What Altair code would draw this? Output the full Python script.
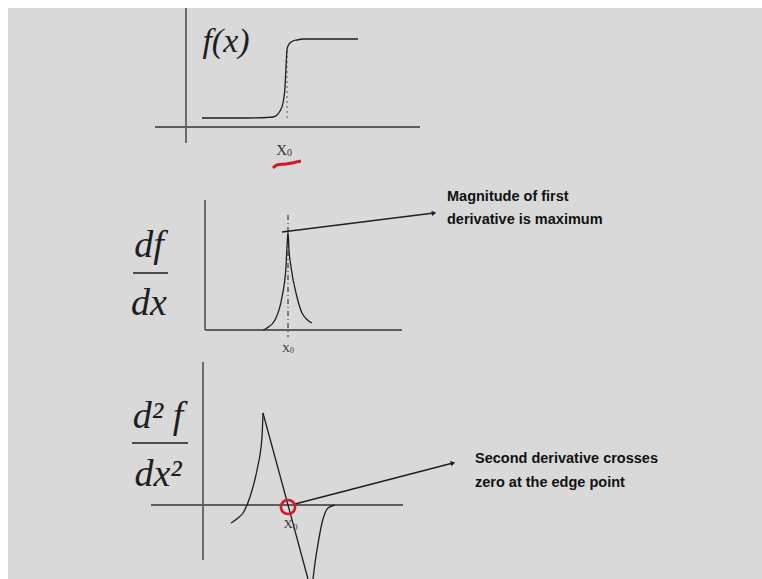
import altair as alt
import numpy as np
import pandas as pd

# Page frame: units are page pixels, the slide sits inside an 8-unit white margin
PAGE_W, PAGE_H, MARGIN = 762, 579, 8

# Each panel: position of the edge x0 and of its horizontal axis
PANEL_X0 = {"f": 287, "d1": 288, "d2": 288}
PANEL_BASE = {"f": 127, "d1": 330, "d2": 505}

# f(x): smooth step edge; offsets from x0 and heights above the axis
f_dx = [-85, -40, -20, -14, -10, -7, -4, -2, -1, 0, 1, 3, 6, 10, 16, 40, 71]
f_h = [9, 9, 9.5, 10, 12, 16, 24, 40, 60, 77, 81, 84, 86, 87, 88, 88, 88]

# df/dx: sharp peak at x0
d1_dx = [-25, -21, -13, -6, -2, -1, 0, 1, 3, 9, 14, 24]
d1_h = [0, 2, 10, 33, 63, 83, 98, 80, 63, 33, 17, 7]

# d2f/dx2: positive lobe, steep straight zero crossing at x0, negative lobe
# (the slide is cut at the bottom, so the negative part stops at -74)
d2_lobe_dx = [-57, -50, -45, -38, -31, -26, -25]
d2_lobe_h = [-18, -13, -8, 8, 35, 68, 92]
d2_cross_dx = [-25, 0, 20]
d2_cross_h = [92, 0, -74]
d2_neg_dx = [25, 27, 29, 34, 40, 47]
d2_neg_h = [-74, -58, -45, -18, -3, 0]

# Coordinate axes of the three panels
hx_from = [155, 205, 151]
hx_to = [420, 402, 403]
hx_y = [127, 330, 505]
vy_x = [186, 205, 203]
vy_from = [8, 200, 362]
vy_to = [143, 330, 560]

# Callout arrows (tail -> head)
arrow_x1 = [282, 295]
arrow_y1 = [232, 504]
arrow_x2 = [434, 453]
arrow_y2 = [213, 463]

# Callout text
note_text = ["Magnitude of first", "derivative is maximum",
             "Second derivative crosses", "zero at the edge point"]
note_x = [447, 447, 475, 475]
note_y = [197, 220, 459, 483]

# x0 tick labels below each panel
x0_x = [285, 288, 291]
x0_y = [150, 349, 524]
x0_size = [15, 11, 13]

# Hand-drawn red emphasis: underline below x0 and circle at the zero crossing
pen_x = [273, 277, 286, 301]
pen_y = [168, 165, 164, 161]
ring_x = [288]
ring_y = [507]

# White page margin around the grey slide (top strip, left strip)
margin_x = [0, 0]
margin_x2 = [PAGE_W, MARGIN]
margin_y = [0, 0]
margin_y2 = [MARGIN, PAGE_H]


def curve(name, panel, dx, h):
    return pd.DataFrame({
        "curve": name,
        "i": list(range(len(dx))),
        "x": [PANEL_X0[panel] + v for v in dx],
        "y": [PANEL_BASE[panel] - v for v in h],
    })


smooth_curves = pd.concat([
    curve("f", "f", f_dx, f_h),
    curve("d1", "d1", d1_dx, d1_h),
    curve("d2_lobe", "d2", d2_lobe_dx, d2_lobe_h),
    curve("d2_neg", "d2", d2_neg_dx, d2_neg_h),
], ignore_index=True)
straight = curve("d2_cross", "d2", d2_cross_dx, d2_cross_h)
guide_f = curve("gf", "f", [0, 0], [9, 77])
guide_d1 = curve("gd1", "d1", [0, 0], [115, -7])

hx = pd.DataFrame({"x": hx_from, "x2": hx_to, "y": hx_y})
vy = pd.DataFrame({"x": vy_x, "y": vy_from, "y2": vy_to})
margins = pd.DataFrame({"x": margin_x, "x2": margin_x2, "y": margin_y, "y2": margin_y2})

arrows = pd.DataFrame({"x": arrow_x1, "y": arrow_y1, "x2": arrow_x2, "y2": arrow_y2})
head_angles = np.degrees(np.arctan2(np.subtract(arrow_x2, arrow_x1),
                                    np.subtract(arrow_y1, arrow_y2)))

notes = pd.DataFrame({"text": note_text, "x": note_x, "y": note_y})
pen = pd.DataFrame({"x": pen_x, "y": pen_y, "i": list(range(len(pen_x)))})
ring = pd.DataFrame({"x": ring_x, "y": ring_y})

# 1 unit = 1 page pixel
X = alt.X("x:Q", scale=alt.Scale(domain=[0, PAGE_W], nice=False, zero=False), axis=None)
Y = alt.Y("y:Q", scale=alt.Scale(domain=[0, PAGE_H], nice=False, zero=False, reverse=True),
          axis=None)

INK = "#1e1e1e"
AXIS = "#5e5e5e"
RED = "#d4182b"
SLIDE = "#d9d9d9"
SERIF = "Liberation Serif"

page_margin = alt.Chart(margins).mark_rect(color="white").encode(
    x=X, x2="x2:Q", y=Y, y2="y2:Q")

axes_h = alt.Chart(hx).mark_rule(color=AXIS, strokeWidth=1.8).encode(x=X, x2="x2:Q", y=Y)
axes_v = alt.Chart(vy).mark_rule(color=AXIS, strokeWidth=1.8).encode(x=X, y=Y, y2="y2:Q")

lines = alt.Chart(smooth_curves).mark_line(
    color=INK, strokeWidth=1.3, interpolate="monotone").encode(
    x=X, y=Y, detail="curve:N", order="i:Q")
cross_line = alt.Chart(straight).mark_line(color=INK, strokeWidth=1.3).encode(
    x=X, y=Y, order="i:Q")

g1 = alt.Chart(guide_f).mark_line(color="#555555", strokeWidth=1, strokeDash=[2, 3]).encode(
    x=X, y=Y, order="i:Q")
g2 = alt.Chart(guide_d1).mark_line(color=INK, strokeWidth=1, strokeDash=[5, 3, 1, 3]).encode(
    x=X, y=Y, order="i:Q")

arrow_lines = alt.Chart(arrows).mark_rule(color=INK, strokeWidth=1.4).encode(
    x=X, y=Y, x2="x2:Q", y2="y2:Q")
arrow_heads = [
    alt.Chart(pd.DataFrame({"x": [hx_], "y": [hy_]})).mark_point(
        shape="triangle-up", filled=True, color=INK, size=28, opacity=1, angle=float(a)
    ).encode(x=X, y=Y)
    for hx_, hy_, a in zip(arrow_x2, arrow_y2, head_angles)
]

note_marks = alt.Chart(notes).mark_text(
    align="left", baseline="middle", font="Liberation Sans",
    fontWeight="bold", fontSize=14.5, color="#111111").encode(x=X, y=Y, text="text:N")


def label(text, x, y, size, baseline="alphabetic", italic=True, color=INK):
    df = pd.DataFrame({"text": [text], "x": [x], "y": [y]})
    return alt.Chart(df).mark_text(
        align="center", baseline=baseline, font=SERIF, fontSize=size,
        fontStyle="italic" if italic else "normal", color=color,
    ).encode(x=X, y=Y, text="text:N")


def x0_label(x, y, size):
    df = pd.DataFrame({"x": [x], "y": [y]})
    base = alt.Chart(df)
    big = base.mark_text(text="X", align="right", baseline="middle", font=SERIF,
                         fontSize=size, color="#333333", dx=2).encode(x=X, y=Y)
    sub = base.mark_text(text="0", align="left", baseline="middle", font=SERIF,
                         fontSize=round(size * 0.7), color="#333333", dx=2,
                         dy=round(size * 0.22)).encode(x=X, y=Y)
    return [big, sub]


frac_bars = alt.Chart(pd.DataFrame({"x": [133, 132], "x2": [168, 188], "y": [273, 443]})).mark_rule(
    color=INK, strokeWidth=1.6).encode(x=X, x2="x2:Q", y=Y)

math_labels = [
    label("f(x)", 226, 42, 34, baseline="middle"),
    label("df", 149, 257, 38),
    label("dx", 149, 315, 38),
    label("d\u00b2 f", 158, 428, 38),
    label("dx\u00b2", 158, 486, 38),
]
for xx, yy, ss in zip(x0_x, x0_y, x0_size):
    math_labels += x0_label(xx, yy, ss)

pen_line = alt.Chart(pen).mark_line(color=RED, strokeWidth=3, interpolate="monotone").encode(
    x=X, y=Y, order="i:Q")
ring_mark = alt.Chart(ring).mark_point(
    shape="circle", filled=False, color=RED, strokeWidth=2.6, size=200, opacity=1).encode(x=X, y=Y)

chart = alt.layer(
    page_margin, axes_h, axes_v, g1, g2, lines, cross_line, arrow_lines, *arrow_heads, frac_bars,
    *math_labels, note_marks, pen_line, ring_mark,
).properties(
    width=PAGE_W, height=PAGE_H,
    padding=0,
    background=SLIDE,
).configure_view(fill=SLIDE, strokeWidth=0)

chart.save("out.html", embed_options={"renderer": "svg", "actions": False})
